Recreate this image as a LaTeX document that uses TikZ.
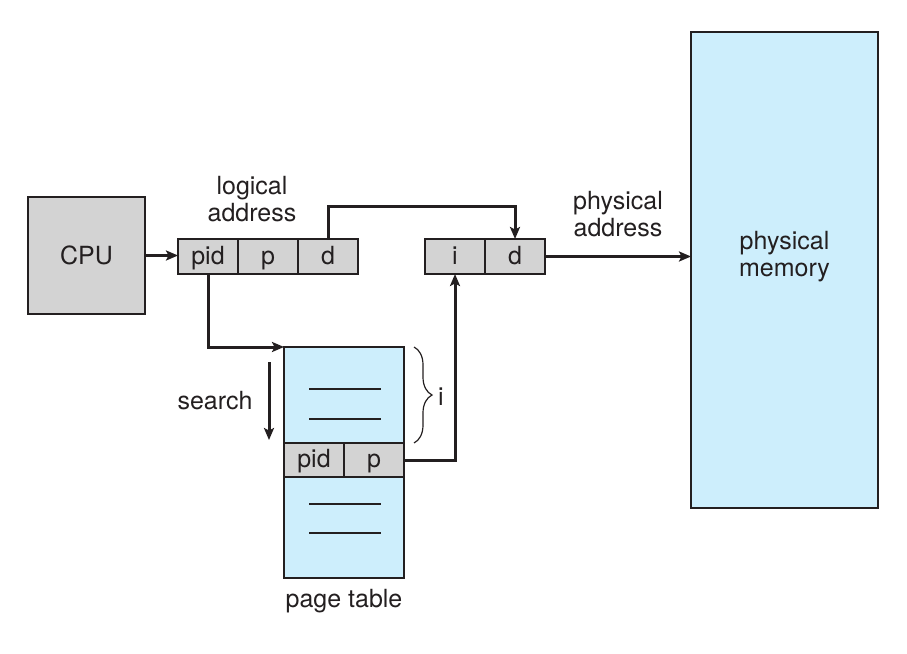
\documentclass[tikz,border=0pt]{standalone}
\usepackage{fontspec}
\setmainfont{TeX Gyre Heros}
\usetikzlibrary{arrows.meta,decorations.pathreplacing,calc}
\definecolor{boxgray}{HTML}{D3D3D3}
\definecolor{memblue}{HTML}{CDEEFC}
\definecolor{ink}{HTML}{231F20}
\begin{document}
\begin{tikzpicture}[x=1pt,y=-1pt,
  every node/.style={text=ink,font=\fontsize{25}{28}\selectfont},
  cell/.style={draw=ink,line width=1.4pt,fill=boxgray,inner sep=0pt,outer sep=0pt,minimum width=60pt,minimum height=35pt,text height=18pt,text depth=3pt},
  bluebox/.style={draw=ink,line width=1.4pt,fill=memblue,inner sep=0pt,outer sep=0pt},
  conn/.style={draw=ink,line width=3pt,-{Stealth[length=12pt,width=10pt,inset=2.5pt]}},
  entry/.style={draw=ink,line width=1.3pt}
]
\useasboundingbox (0,0) rectangle (907,653);
% CPU
\node[cell,minimum width=117pt,minimum height=117pt,text height=18pt,text depth=0pt] (cpu) at (86.5,255.5) {CPU};
% logical address
\node[cell] (la1) at (208,256.5) {pid};
\node[cell] (la2) at (268,256.5) {p};
\node[cell] (la3) at (328,256.5) {d};
\node[align=center,inner sep=0pt] (latext) at (252,199) {logical\\[-1pt]address};
% physical address
\node[cell] (pa1) at (455,256.5) {i};
\node[cell] (pa2) at (515,256.5) {d};
\node[align=center,inner sep=0pt] (patext) at (618,214) {physical\\[-1pt]address};
% physical memory
\node[bluebox,minimum width=187pt,minimum height=476pt] (mem) at (784.5,270) {};
\node[align=center,inner sep=0pt] (memtext) at (784.5,257) {physical\\[-1pt]memory};
% page table
\node[bluebox,minimum width=120pt,minimum height=231pt] (pt) at (344,462.5) {};
\node[cell,minimum height=34pt] (pt1) at (314,460) {pid};
\node[cell,minimum height=34pt] (pt2) at (374,460) {p};
\node[inner sep=0pt] (pttext) at (344,601) {page table};
\draw[entry] (309,389) -- (381,389);
\draw[entry] (309,419) -- (381,419);
\draw[entry] (309,504) -- (381,504);
\draw[entry] (309,533) -- (381,533);
% brace
\coordinate (btop) at (414,347);
\coordinate (bbot) at (414,443);
\draw[draw=ink,line width=1.2pt,decorate,decoration={brace,amplitude=18pt,aspect=0.5}] (btop) -- (bbot);
\node[inner sep=0pt] (itext) at (441,397) {i};
% search
\coordinate (sa) at (269,362);
\coordinate (sb) at (269,440);
\draw[conn] (sa) -- (sb);
\node[inner sep=0pt] (stext) at (215,401) {search};
% connectors
\draw[conn] (cpu.east) -- (cpu.east -| la1.west);
\coordinate (topbend) at (515,206);
\draw[conn] (la3.north) |- (topbend) -- (pa2.north);
\draw[conn] (pa2.east) -- (pa2.east -| mem.west);
\draw[conn] (la1.south) |- (pt.north west);
\draw[conn] (pt2.east) -| (pa1.south);
\end{tikzpicture}
\end{document}
